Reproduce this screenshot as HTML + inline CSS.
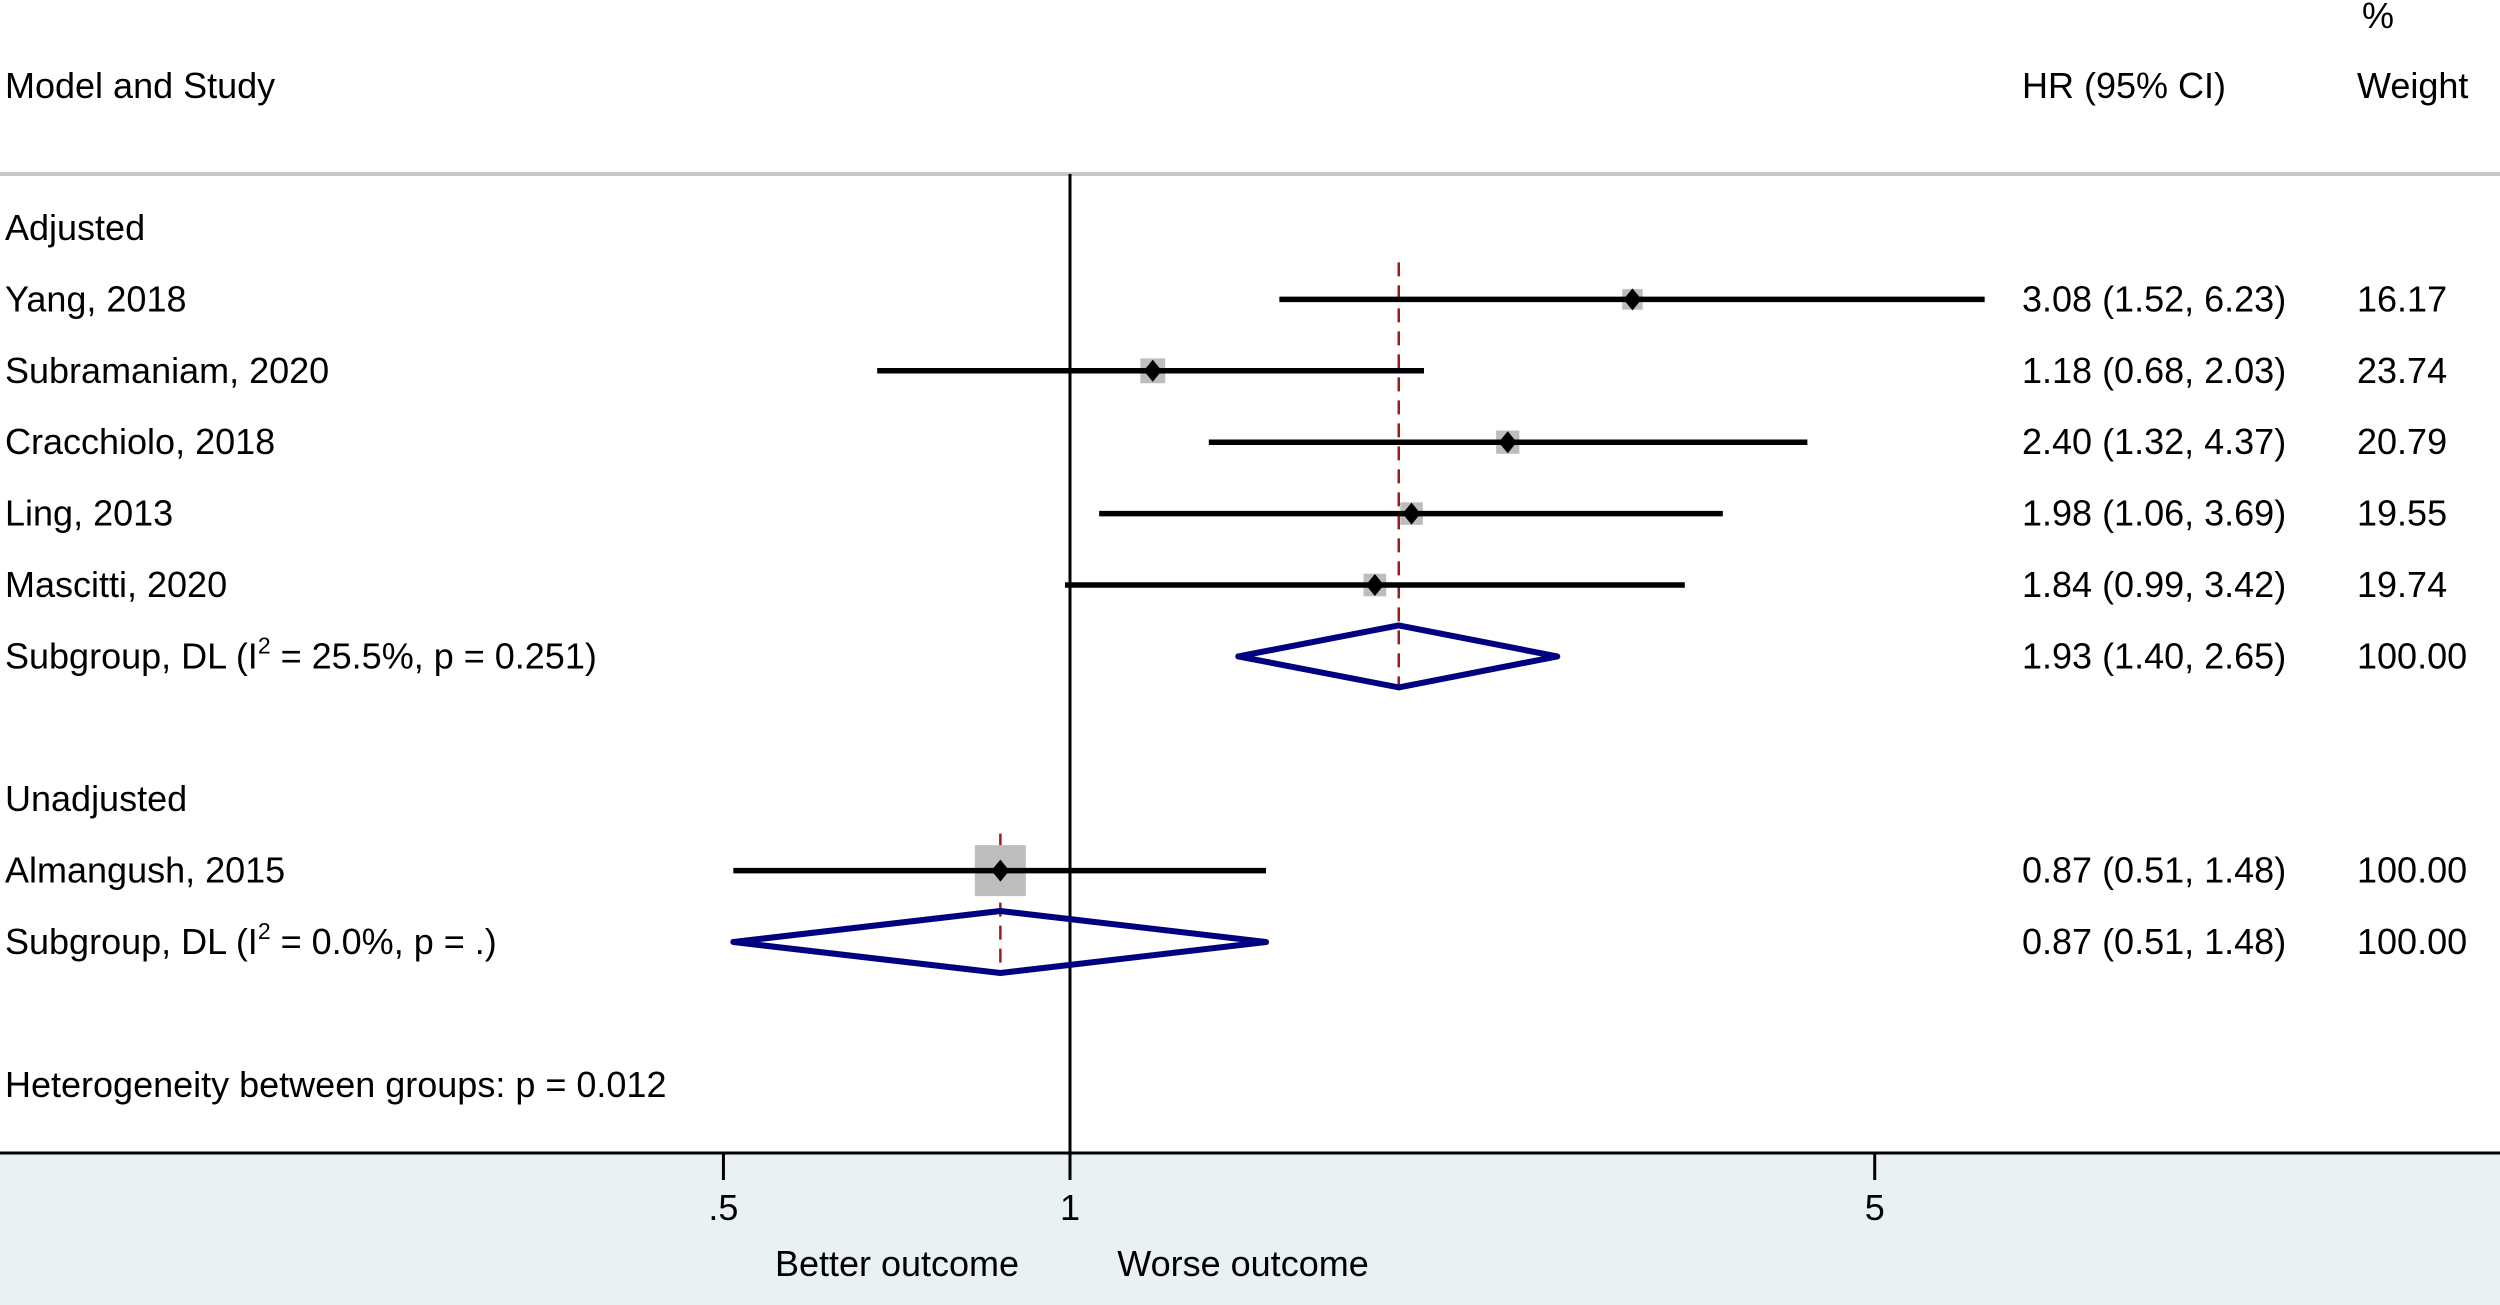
<!DOCTYPE html>
<html><head><meta charset="utf-8"><style>
html,body{margin:0;padding:0;background:#fff;}
svg{display:block;font-family:"Liberation Sans",Arial,sans-serif;}
</style></head><body>
<svg id="chart" width="2500" height="1305" viewBox="0 0 2500 1305" xmlns="http://www.w3.org/2000/svg">
<rect x="0" y="1153" width="2500" height="152" fill="#eaf1f3"/>
<line x1="0" y1="174" x2="2500" y2="174" stroke="#c8c8c8" stroke-width="4"/>
<text x="2362" y="28" font-size="36">%</text>
<text x="5" y="98" font-size="36">Model and Study</text>
<text x="2022" y="98" font-size="36">HR (95% CI)</text>
<text x="2357" y="98" font-size="36">Weight</text>
<g id="marks"></g>
<line x1="0" y1="1153" x2="2500" y2="1153" stroke="#000" stroke-width="3"/>
<text x="897" y="1276" font-size="36" text-anchor="middle">Better outcome</text>
<text x="1243" y="1276" font-size="36" text-anchor="middle">Worse outcome</text>
</svg>
<script>
const studies = ["Yang, 2018","Subramaniam, 2020","Cracchiolo, 2018","Ling, 2013","Mascitti, 2020","Almangush, 2015"];
const studyRows = [1,2,3,4,5,9];
const hr = [3.08,1.18,2.40,1.98,1.84,0.87];
const lo = [1.52,0.68,1.32,1.06,0.99,0.51];
const hi = [6.23,2.03,4.37,3.69,3.42,1.48];
const weights = ["16.17","23.74","20.79","19.55","19.74","100.00"];
const weightVals = [16.17,23.74,20.79,19.55,19.74,100];
const pooledRows = [6,10];
const pooledHr = [1.93,0.87];
const pooledLo = [1.40,0.51];
const pooledHi = [2.65,1.48];
const pooledLabels = ["1.93 (1.40, 2.65)","0.87 (0.51, 1.48)"];
const pooledWeights = ["100.00","100.00"];
const groupRows = [0,8];
const groupNames = ["Adjusted","Unadjusted"];
const tickVals = [0.5,1,5];
const tickLabels = [".5","1","5"];

const NS="http://www.w3.org/2000/svg";
const g=document.getElementById('marks');
const xs=v=>1070+500*Math.log(v);
const ys=r=>228+r*71.4;
function mk(tag,attrs,parent){const e=document.createElementNS(NS,tag);for(const k in attrs)e.setAttribute(k,attrs[k]);(parent||g).appendChild(e);return e;}
const T=(x,y,s,extra)=>{const e=mk('text',Object.assign({x:x,y:y+12,'font-size':36},extra||{}));e.textContent=s;return e;};

const nl=mk('line',{x1:xs(1),y1:174,x2:xs(1),y2:1153,stroke:'#000','stroke-width':3});



groupNames.forEach((n,i)=>{const e=T(5,ys(groupRows[i]),n);

});

const dashTop=[1,9],dashBot=[6,10];
pooledHr.forEach((v,i)=>{const e=mk('line',{x1:xs(v),x2:xs(v),y1:ys(dashTop[i])-37,y2:ys(dashBot[i])+32,stroke:'#9b1c1c','stroke-width':2.5,'stroke-dasharray':'14 9'});

});

studies.forEach((s,i)=>{const y=ys(studyRows[i]);
const lab=T(5,y,s);


const side=51*Math.sqrt(weightVals[i]/100);
const sq=mk('rect',{x:xs(hr[i])-side/2,y:y-side/2,width:side,height:side,fill:'#bdbdbd'});


const ci=mk('line',{x1:xs(lo[i]),x2:xs(hi[i]),y1:y,y2:y,stroke:'#000','stroke-width':5.5});


const x=xs(hr[i]);
const pt=mk('polygon',{points:`${x-9},${y} ${x},${y-11} ${x+9},${y} ${x},${y+11}`,fill:'#000'});


const h=T(2022,y,`${hr[i].toFixed(2)} (${lo[i].toFixed(2)}, ${hi[i].toFixed(2)})`);


const w=T(2357,y,weights[i]);

});

const subLabels=[["25.5%","0.251"],["0.0%","."]];
pooledHr.forEach((v,i)=>{const y=ys(pooledRows[i]);
const t=mk('text',{x:5,y:y+12,'font-size':36});


t.innerHTML=`Subgroup, DL (I<tspan dy="-15" font-size="23">2</tspan><tspan dy="15"> = ${subLabels[i][0]}, p = ${subLabels[i][1]})</tspan>`;
const d=mk('polygon',{points:`${xs(pooledLo[i])},${y} ${xs(v)},${y-31} ${xs(pooledHi[i])},${y} ${xs(v)},${y+31}`,fill:'none',stroke:'#000080','stroke-width':6,'stroke-linejoin':'round'});


const h=T(2022,y,pooledLabels[i]);


const w=T(2357,y,pooledWeights[i]);

});

const het=T(5,ys(12),"Heterogeneity between groups: p = 0.012");



tickVals.forEach((v,i)=>{const tk=mk('line',{x1:xs(v),x2:xs(v),y1:1153,y2:1180,stroke:'#000','stroke-width':3});


const tl=mk('text',{x:xs(v),y:1220,'font-size':36,'text-anchor':'middle'});
tl.textContent=tickLabels[i];

});
</script>
</body></html>
